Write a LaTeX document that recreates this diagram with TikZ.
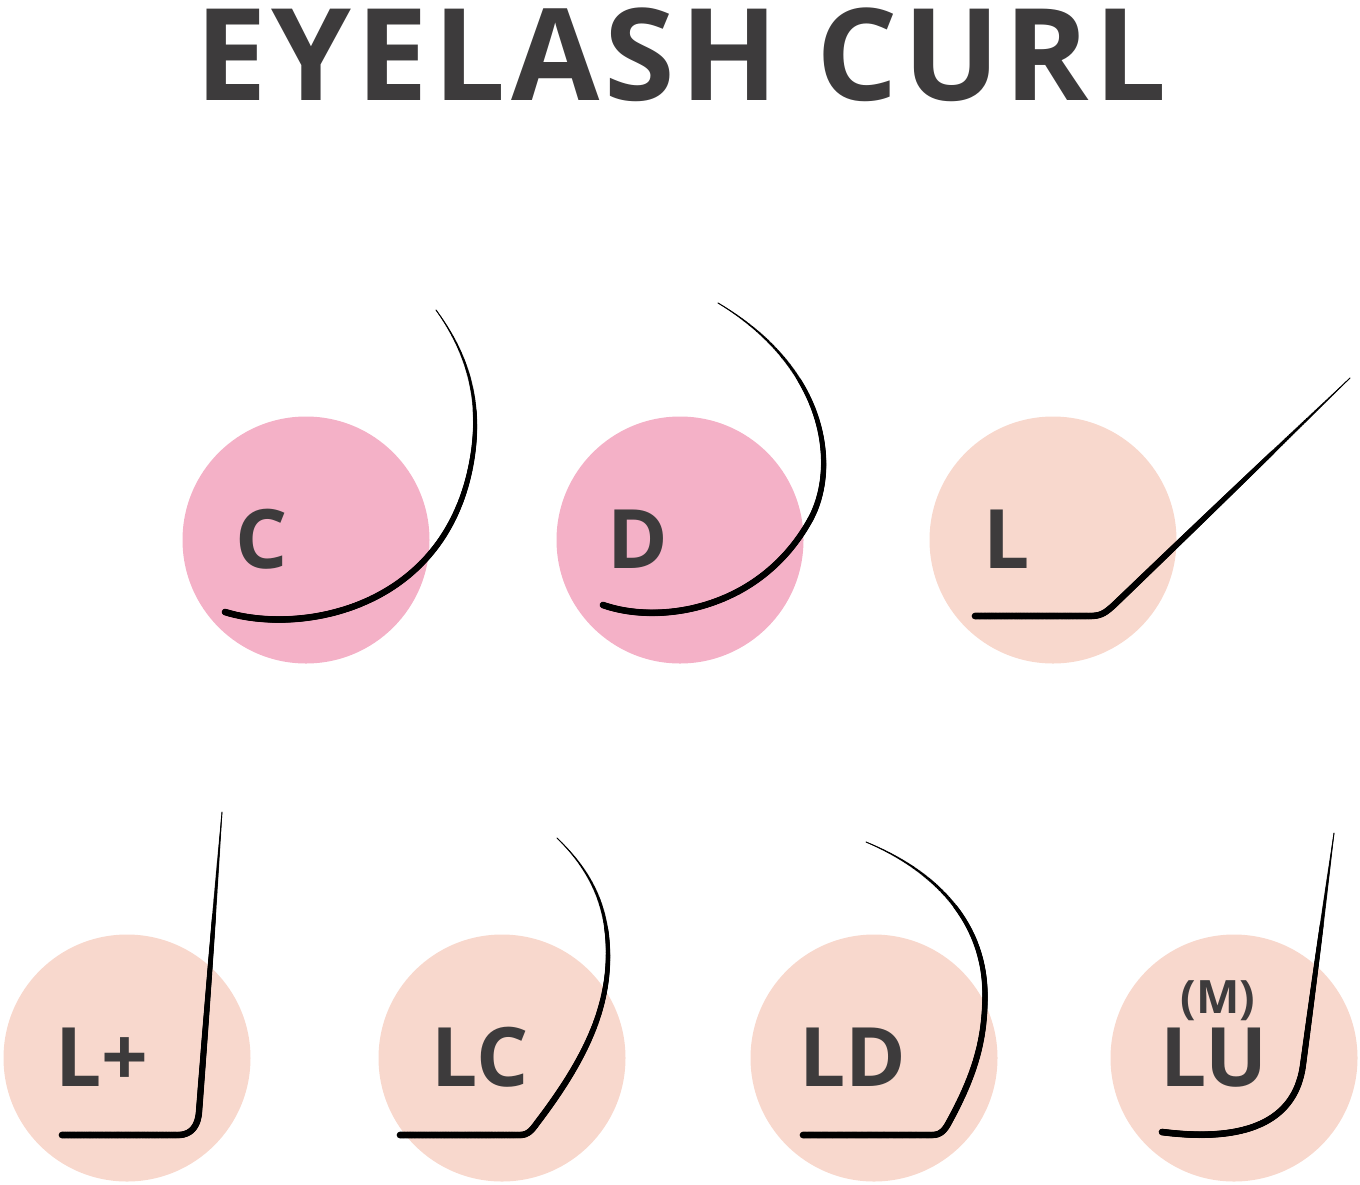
\documentclass[tikz,border=0pt]{standalone}
\usepackage{fontspec}
\setmainfont{Open Sans}
\usepackage{xcolor}
\usetikzlibrary{positioning,decorations.markings}
\definecolor{inkgray}{HTML}{3D3B3C}
\definecolor{curlpink}{HTML}{F4B1C7}
\definecolor{curlpeach}{HTML}{F8D8CD}

\begin{document}
\begin{tikzpicture}[x=0.5pt,y=-0.5pt]
\tikzstyle{every node}+=[inner sep=0pt]
\tikzstyle{pinkdot}=[circle,fill=curlpink,minimum size=123.5pt]
\tikzstyle{peachdot}=[circle,fill=curlpeach,minimum size=123.5pt]
\tikzstyle{curlname}=[anchor=base,text=inkgray,text height=30pt,text depth=0pt,font=\fontsize{41}{41}\selectfont\bfseries]
\tikzstyle{lash}=[draw=black,line width=0.45pt,line cap=round,postaction={decorate},
  decoration={markings,mark=between positions 0 and 1 step 0.002 with {%
  \pgfmathsetmacro\lashr{0.22+1.45*(1-(0.002*\pgfkeysvalueof{/pgf/decoration/mark info/sequence number})^3)}%
  \fill[black] (0,0) circle[radius=\lashr pt];}}]
\useasboundingbox (0,0) rectangle (1360,1184);
\node[anchor=base,text=inkgray,font=\fontsize{64}{64}\selectfont\bfseries\addfontfeature{LetterSpace=4}] (title) at (681,100) {EYELASH CURL};
\node[pinkdot] (dotC) at (306,540) {};
\node[pinkdot] (dotD) at (680,540) {};
\node[peachdot] (dotL) at (1053,540) {};
\node[peachdot] (dotLplus) at (127,1058) {};
\node[peachdot] (dotLC) at (502,1058) {};
\node[peachdot] (dotLD) at (874,1058) {};
\node[peachdot] (dotLU) at (1234,1058) {};
\node[curlname] (nameC) at (262,568) {C};
\node[curlname] (nameD) at (638,568) {D};
\node[curlname] (nameL) at (1007,568) {L};
\node[curlname] (nameLplus) at (102,1086) {L+};
\node[curlname] (nameLC) at (480,1086) {LC};
\node[curlname] (nameLD) at (853,1086) {LD};
\node[curlname] (nameLU) at (1214,1086) {LU};
\node[curlname,text height=17pt,font=\fontsize{23}{23}\selectfont\bfseries] (nameM) at (1218,1013) {(M)};
\draw[lash] (225,612) .. controls (300,635) and (440,610) .. (470,470) .. controls (485,400) and (465,350) .. (436,310);
\draw[lash] (603,605) .. controls (660,625) and (760,610) .. (810,520) .. controls (838,470) and (830,370) .. (718,303);
\draw[lash] (975,616) -- (1090,616) .. controls (1102,616) and (1106,612) .. (1114,605) -- (1350,378);
\draw[lash] (62,1135) -- (178,1135) .. controls (192,1135) and (198,1125) .. (199,1112) -- (222,812);
\draw[lash] (400,1135) -- (520,1135) .. controls (528,1135) and (532,1130) .. (537,1123) .. controls (585,1060) and (608,1010) .. (608,955) .. controls (608,905) and (590,870) .. (557,838);
\draw[lash] (803,1135) -- (932,1135) .. controls (940,1135) and (944,1131) .. (948,1124) .. controls (975,1075) and (985,1040) .. (985,995) .. controls (985,930) and (945,875) .. (866,842);
\draw[lash] (1162,1132) .. controls (1240,1142) and (1295,1125) .. (1303,1065) -- (1334,833);
\end{tikzpicture}
\end{document}
